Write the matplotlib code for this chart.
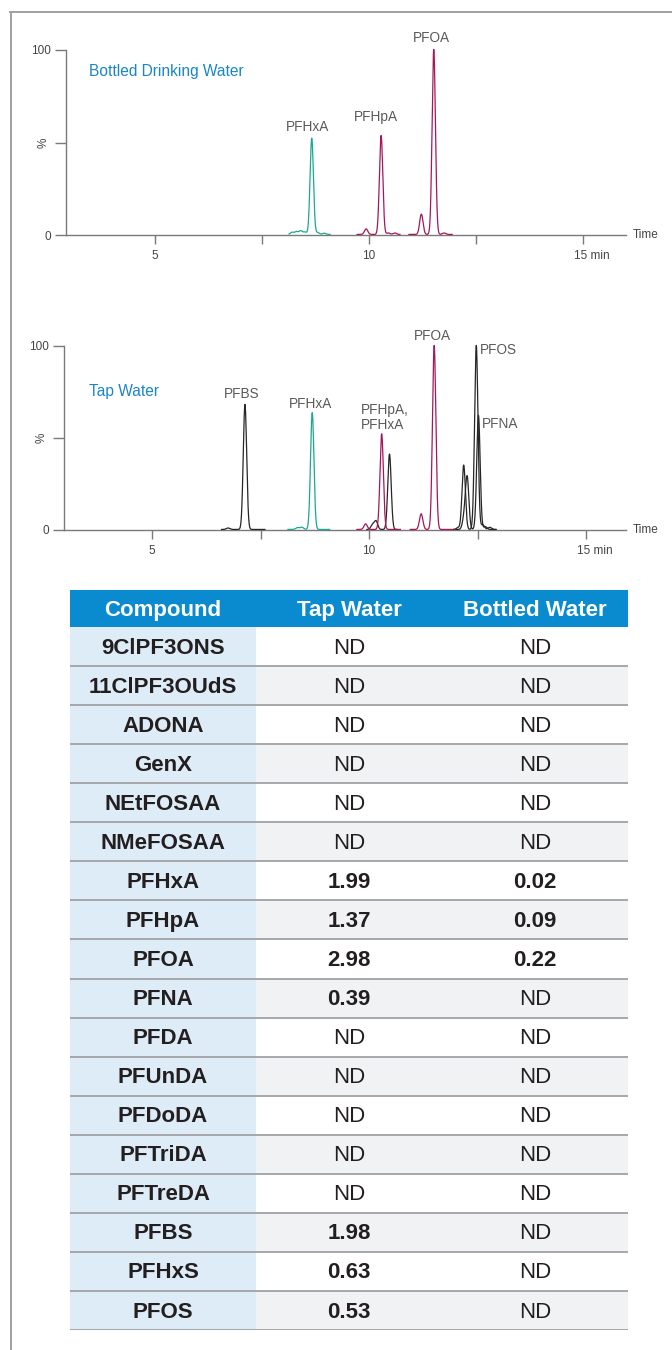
import matplotlib.pyplot as plt
import numpy as np
from matplotlib.lines import Line2D
from matplotlib.patches import Rectangle

# ---- chromatogram peaks (retention time in min, height in %) ----
# Bottled drinking water
bw_teal_range = (8.13, 9.09)
bw_teal_rt = [8.20, 8.30, 8.40, 8.50, 8.66, 8.80, 8.95]
bw_teal_ht = [1.2, 1.5, 2.0, 1.3, 52, 1.0, 0.7]
bw_mag1_range = (9.72, 10.72)
bw_mag1_rt = [9.93, 10.28, 10.45, 10.60]
bw_mag1_ht = [3.0, 53.5, 0.8, 0.8]
bw_mag2_range = (10.93, 11.94)
bw_mag2_rt = [11.22, 11.51, 11.75]
bw_mag2_ht = [11, 100, 0.8]

# Tap water
tw_blk1_range = (6.60, 7.60)
tw_blk1_rt = [6.75, 7.14]
tw_blk1_ht = [0.8, 68]
tw_teal_range = (8.13, 9.09)
tw_teal_rt = [8.35, 8.45, 8.69]
tw_teal_ht = [1.0, 1.2, 63.5]
tw_mag1_range = (9.72, 10.72)
tw_mag1_rt = [9.92, 10.29]
tw_mag1_ht = [3.0, 52]
tw_blk2_range = (9.95, 10.65)
tw_blk2_rt = [10.08, 10.16, 10.47]
tw_blk2_ht = [2.5, 4.5, 41]
tw_mag2_range = (10.95, 11.95)
tw_mag2_rt = [11.20, 11.50]
tw_mag2_ht = [8.5, 100]
tw_pfos_range = (11.95, 12.93)
tw_pfos_rt = [12.05, 12.18, 12.47, 12.62, 12.78]
tw_pfos_ht = [1.0, 35, 100, 2.5, 1.2]
tw_pfna_range = (12.00, 12.90)
tw_pfna_rt = [12.19, 12.26, 12.52, 12.68]
tw_pfna_ht = [6, 28, 62, 1.5]

# ---- table ----
compounds = ['9ClPF3ONS', '11ClPF3OUdS', 'ADONA', 'GenX', 'NEtFOSAA', 'NMeFOSAA',
             'PFHxA', 'PFHpA', 'PFOA', 'PFNA', 'PFDA', 'PFUnDA', 'PFDoDA',
             'PFTriDA', 'PFTreDA', 'PFBS', 'PFHxS', 'PFOS']
tap_water = ['ND', 'ND', 'ND', 'ND', 'ND', 'ND', '1.99', '1.37', '2.98', '0.39',
             'ND', 'ND', 'ND', 'ND', 'ND', '1.98', '0.63', '0.53']
bottled_water = ['ND', 'ND', 'ND', 'ND', 'ND', 'ND', '0.02', '0.09', '0.22', 'ND',
                 'ND', 'ND', 'ND', 'ND', 'ND', 'ND', 'ND', 'ND']
headers = ['Compound', 'Tap Water', 'Bottled Water']

TEAL = '#1aa892'
MAG = '#a3185c'
BLK = '#262626'
AXC = '#7a7a7a'
BLUE = '#1a86c8'
LBL = '#5a5a5a'
CHART_FONT = 'Liberation Sans'
TABLE_FONT = 'Liberation Sans'

W, H = 672, 1350
fig = plt.figure(figsize=(W / 100, H / 100), dpi=100)


def px_axes(left, top, right, bottom):
    return fig.add_axes([left / W, 1 - bottom / H, (right - left) / W, (bottom - top) / H])


def trace(rt, ht, rng, sigma=0.039):
    t = np.linspace(rng[0], rng[1], 800)
    y = np.zeros_like(t) + 0.3
    for r, h in zip(rt, ht):
        y += h * np.exp(-0.5 * ((t - r) / sigma) ** 2)
    return t, y


def style_chrom(ax, xmin, xmax):
    ax.set_xlim(xmin, xmax)
    ax.set_ylim(0, 100)
    for s in ['top', 'right']:
        ax.spines[s].set_visible(False)
    for s in ['left', 'bottom']:
        ax.spines[s].set_color(AXC)
        ax.spines[s].set_linewidth(1.0)
    ax.set_xticks([5, 7.5, 10, 12.5, 15])
    ax.set_xticklabels(['5', '', '10', '', ''])
    ax.set_yticks([0, 50, 100])
    ax.set_yticklabels(['0', '', '100'])
    ax.tick_params(axis='x', direction='out', length=6.5, width=1, color=AXC,
                   labelsize=8.5, labelcolor='#444444', pad=4)
    ax.tick_params(axis='y', direction='out', length=8, width=1, color=AXC,
                   labelsize=8.5, labelcolor='#444444', pad=3)
    for lbl in ax.get_xticklabels() + ax.get_yticklabels():
        lbl.set_fontfamily(CHART_FONT)
    ax.annotate('15 min', xy=(15, 0), xycoords=('data', 'axes fraction'),
                xytext=(-9, -15), textcoords='offset pixels', ha='left', va='top',
                fontsize=8.5, color='#444444', family=CHART_FONT)
    ax.annotate('Time', xy=(1, 0), xycoords='axes fraction', xytext=(7, 0),
                textcoords='offset pixels', ha='left', va='center',
                fontsize=8.5, color='#444444', family=CHART_FONT)
    ax.annotate('%', xy=(0, 0.5), xycoords='axes fraction', xytext=(-22, 0),
                textcoords='offset pixels', ha='center', va='center', rotation=90,
                fontsize=8.5, color='#444444', family=CHART_FONT)
    ax.patch.set_alpha(0)


def draw(ax, rt, ht, rng, color):
    t, y = trace(rt, ht, rng)
    ax.plot(t, y, color=color, lw=0.9, clip_on=False, zorder=3)


def peak_label(ax, x, y, s, ha='center'):
    ax.text(x, y, s, ha=ha, va='center', fontsize=9.8, color=LBL, family=CHART_FONT,
            linespacing=1.1)


# ---- top chromatogram: bottled water ----
ax1 = px_axes(66, 50, 626, 235)
style_chrom(ax1, 2.92, 16.0)
draw(ax1, bw_teal_rt, bw_teal_ht, bw_teal_range, TEAL)
draw(ax1, bw_mag1_rt, bw_mag1_ht, bw_mag1_range, MAG)
draw(ax1, bw_mag2_rt, bw_mag2_ht, bw_mag2_range, MAG)
ax1.text(3.46, 88.6, 'Bottled Drinking Water', ha='left', va='center', fontsize=11.2,
         color=BLUE, family=CHART_FONT)
peak_label(ax1, 8.57, 58.4, 'PFHxA')
peak_label(ax1, 10.16, 63.8, 'PFHpA')
peak_label(ax1, 11.45, 106.5, 'PFOA')

# ---- second chromatogram: tap water ----
ax2 = px_axes(64, 346, 626, 530)
style_chrom(ax2, 2.97, 15.92)
draw(ax2, tw_blk1_rt, tw_blk1_ht, tw_blk1_range, BLK)
draw(ax2, tw_teal_rt, tw_teal_ht, tw_teal_range, TEAL)
draw(ax2, tw_blk2_rt, tw_blk2_ht, tw_blk2_range, BLK)
draw(ax2, tw_mag1_rt, tw_mag1_ht, tw_mag1_range, MAG)
draw(ax2, tw_mag2_rt, tw_mag2_ht, tw_mag2_range, MAG)
draw(ax2, tw_pfna_rt, tw_pfna_ht, tw_pfna_range, BLK)
draw(ax2, tw_pfos_rt, tw_pfos_ht, tw_pfos_range, BLK)
ax2.text(3.55, 75.5, 'Tap Water', ha='left', va='center', fontsize=11.2,
         color=BLUE, family=CHART_FONT)
peak_label(ax2, 7.07, 73.9, 'PFBS')
peak_label(ax2, 8.66, 68.5, 'PFHxA')
peak_label(ax2, 9.82, 61.1, 'PFHpA,\nPFHxA', ha='left')
peak_label(ax2, 11.45, 105.4, 'PFOA')
peak_label(ax2, 12.56, 97.8, 'PFOS', ha='left')
peak_label(ax2, 12.60, 57.6, 'PFNA', ha='left')

# ---- table ----
n = len(compounds)
head_h = 37 / 39
axt = px_axes(70, 590, 628, 1330)
axt.set_xlim(0, 3)
axt.set_ylim(n, -head_h)
axt.axis('off')

axt.add_patch(Rectangle((0, -head_h), 3, head_h, color='#0a8bd0', lw=0))
for j, h in enumerate(headers):
    axt.text(j + 0.5, -head_h / 2 + 0.04, h, ha='center', va='center', color='white',
             fontsize=16, fontweight='bold', family=TABLE_FONT)

for i, (c, tv, bv) in enumerate(zip(compounds, tap_water, bottled_water)):
    axt.add_patch(Rectangle((0, i), 1, 1, color='#deecf7', lw=0))
    bg = '#f1f2f4' if i % 2 == 1 else 'white'
    axt.add_patch(Rectangle((1, i), 2, 1, color=bg, lw=0))
    axt.text(0.5, i + 0.54, c, ha='center', va='center', color='#231f20',
             fontsize=16, fontweight='bold', family=TABLE_FONT)
    for j, v in ((1, tv), (2, bv)):
        axt.text(j + 0.5, i + 0.54, v, ha='center', va='center', color='#231f20',
                 fontsize=16, fontweight='normal' if v == 'ND' else 'bold',
                 family=TABLE_FONT)
    axt.plot([0, 3], [i + 1, i + 1], color='#a5a7aa', lw=1.4, solid_capstyle='butt')

# page frame
fig.add_artist(Line2D([11 / W, 11 / W], [1 - 12 / H, 0], transform=fig.transFigure,
                      color='#a0a0a0', lw=1.4))
fig.add_artist(Line2D([10 / W, 1], [1 - 12 / H, 1 - 12 / H], transform=fig.transFigure,
                      color='#a0a0a0', lw=1.4))

fig.savefig('out.png', dpi=100, facecolor='white')
